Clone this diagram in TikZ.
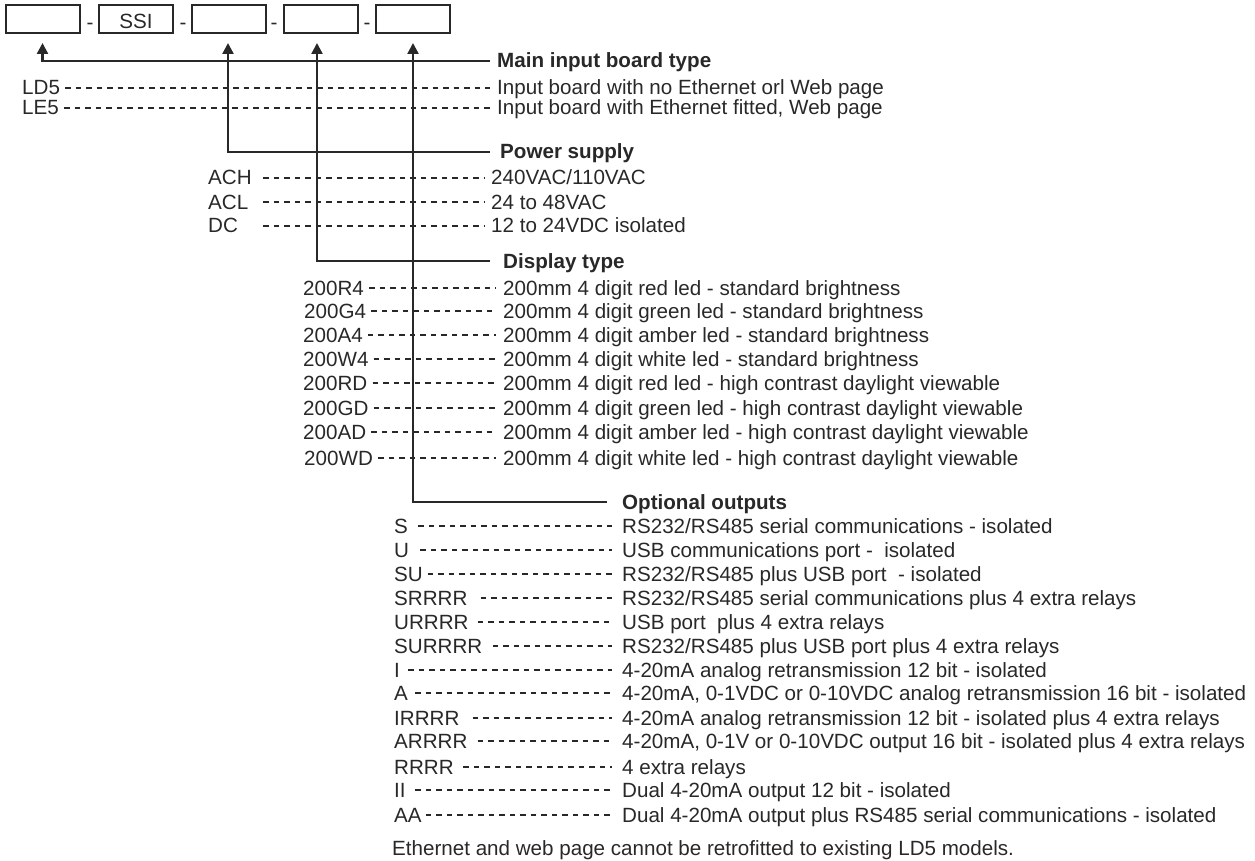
\documentclass[tikz,border=0pt]{standalone}
\usepackage{fontspec}
\setmainfont{Liberation Sans}
\usetikzlibrary{arrows.meta}
\definecolor{ink}{RGB}{40,40,40}
\begin{document}
\begin{tikzpicture}[x=1pt,y=-1pt,
  every node/.style={text=ink, font=\fontsize{20.6}{24}\selectfont},
  txt/.style={anchor=west, inner xsep=3pt, inner ysep=0pt, text height=14pt, text depth=0pt},
  hdr/.style={txt, font=\fontsize{20.6}{24}\selectfont\bfseries},
  pcode/.style={txt, text width=50pt, align=left},
  codebox/.style={draw=ink, line width=2pt, minimum width=74pt, minimum height=28pt, inner sep=0pt, text height=20pt, text depth=0pt},
  hyph/.style={inner sep=0pt, text height=14pt, text depth=0pt},
  conn/.style={draw=ink, line width=2.3pt},
  arr/.style={conn, -{Triangle[width=11pt,length=11pt]}},
  dashline/.style={draw=ink, line width=1.6pt, dash pattern=on 5.5pt off 5pt, shorten <=2pt, shorten >=4pt},
  g4/.style={dashline, shorten >=7pt, shorten <=#1},
]
\useasboundingbox (0,0) rectangle (1255,861);

% top code boxes
\node[codebox] (b1) at (42.5,19) {};
\node[hyph] (s1) at (90,22.5) {-};
\node[codebox] (b2) at (136,19) {SSI};
\node[hyph] (s2) at (183,22.5) {-};
\node[codebox] (b3) at (229,19) {};
\node[hyph] (s3) at (274,22.5) {-};
\node[codebox] (b4) at (321,19) {};
\node[hyph] (s4) at (367,22.5) {-};
\node[codebox] (b5) at (412.5,19) {};

% headers
\node[hdr] (h1) at (494,61) {Main input board type};
\node[hdr] (h2) at (497,152) {Power supply};
\node[hdr] (h3) at (500,261) {Display type};
\node[hdr] (h4) at (619,502) {Optional outputs};

% arrows
\draw[arr] ([xshift=-4pt]h1.west) -| ([yshift=-9pt]b1.south);
\draw[arr] ([xshift=-7pt]h2.west) -| ([xshift=-1pt,yshift=-9pt]b3.south);
\draw[arr] ([xshift=-10pt]h3.west) -| ([xshift=-4pt,yshift=-9pt]b4.south);
\draw[arr] ([xshift=-12pt]h4.west) -| ([xshift=0.5pt,yshift=-9pt]b5.south);

% group 1
\node[txt] (c11) at (19,88) {LD5};
\node[txt] (d11) at (494,88) {Input board with no Ethernet orl Web page};
\node[txt] (c12) at (19,108) {LE5};
\node[txt] (d12) at (494,108) {Input board with Ethernet fitted, Web page};
\draw[dashline] (c11.east) -- (d11.west);
\draw[dashline] (c12.east) -- (d12.west);

% group 2
\node[pcode] (c21) at (205,178) {ACH};
\node[txt] (d21) at (488,178) {240VAC/110VAC};
\node[pcode] (c22) at (205,202) {ACL};
\node[txt] (d22) at (488,202) {24 to 48VAC};
\node[pcode] (c23) at (205,226) {DC};
\node[txt] (d23) at (488,226) {12 to 24VDC isolated};
\foreach \i in {1,2,3} {\draw[dashline] (c2\i.east) -- (d2\i.west);}

% group 3
\node[txt] (c31) at (300,288) {200R4};
\node[txt] (d31) at (500,288) {200mm 4 digit red led - standard brightness};
\node[txt] (c32) at (301,311) {200G4};
\node[txt] (d32) at (500,311) {200mm 4 digit green led - standard brightness};
\node[txt] (c33) at (300,335) {200A4};
\node[txt] (d33) at (500,335) {200mm 4 digit amber led - standard brightness};
\node[txt] (c34) at (300,359) {200W4};
\node[txt] (d34) at (500,359) {200mm 4 digit white led - standard brightness};
\node[txt] (c35) at (300,383) {200RD};
\node[txt] (d35) at (500,383) {200mm 4 digit red led - high contrast daylight viewable};
\node[txt] (c36) at (300,408) {200GD};
\node[txt] (d36) at (500,408) {200mm 4 digit green led - high contrast daylight viewable};
\node[txt] (c37) at (300,432) {200AD};
\node[txt] (d37) at (500,432) {200mm 4 digit amber led - high contrast daylight viewable};
\node[txt] (c38) at (301,458) {200WD};
\node[txt] (d38) at (500,458) {200mm 4 digit white led - high contrast daylight viewable};
\foreach \i in {1,...,8} {\draw[dashline] (c3\i.east) -- (d3\i.west);}

% group 4
\node[txt] (c401) at (391,526) {S};
\node[txt] (d401) at (619,526) {RS232/RS485 serial communications - isolated};
\node[txt] (c402) at (391,550) {U};
\node[txt] (d402) at (619,550) {USB communications port -\ \ isolated};
\node[txt] (c403) at (391,574) {SU};
\node[txt] (d403) at (619,574) {RS232/RS485 plus USB port\ \ - isolated};
\node[txt] (c404) at (391,598) {SRRRR};
\node[txt] (d404) at (619,598) {RS232/RS485 serial communications plus 4 extra relays};
\node[txt] (c405) at (391,622) {URRRR};
\node[txt] (d405) at (619,622) {USB port\ \ plus 4 extra relays};
\node[txt] (c406) at (391,646) {SURRRR};
\node[txt] (d406) at (619,646) {RS232/RS485 plus USB port plus 4 extra relays};
\node[txt] (c407) at (391,670) {I};
\node[txt] (d407) at (619,670) {4-20mA analog retransmission 12 bit - isolated};
\node[txt] (c408) at (391,693) {A};
\node[txt] (d408) at (619,693) {4-20mA, 0-1VDC or 0-10VDC analog retransmission 16 bit - isolated};
\node[txt] (c409) at (391,718) {IRRRR};
\node[txt] (d409) at (619,718) {4-20mA analog retransmission 12 bit - isolated plus 4 extra relays};
\node[txt] (c410) at (391,741) {ARRRR};
\node[txt] (d410) at (619,741) {4-20mA, 0-1V or 0-10VDC output 16 bit - isolated plus 4 extra relays};
\node[txt] (c411) at (391,767) {RRRR};
\node[txt] (d411) at (619,767) {4 extra relays};
\node[txt] (c412) at (391,790) {II};
\node[txt] (d412) at (619,790) {Dual 4-20mA output 12 bit - isolated};
\node[txt] (c413) at (391,815) {AA};
\node[txt] (d413) at (619,815) {Dual 4-20mA output plus RS485 serial communications - isolated};
\foreach \i/\g in {01/7pt,02/8pt,03/1.5pt,04/10pt,05/6pt,06/7pt,07/5pt,08/4pt,09/10pt,10/7pt,11/6.5pt,12/6.5pt,13/1pt} {\draw[g4=\g] (c4\i.east) -- (d4\i.west);}

\node[txt] (note) at (389,848) {Ethernet and web page cannot be retrofitted to existing LD5 models.};
\end{tikzpicture}
\end{document}
